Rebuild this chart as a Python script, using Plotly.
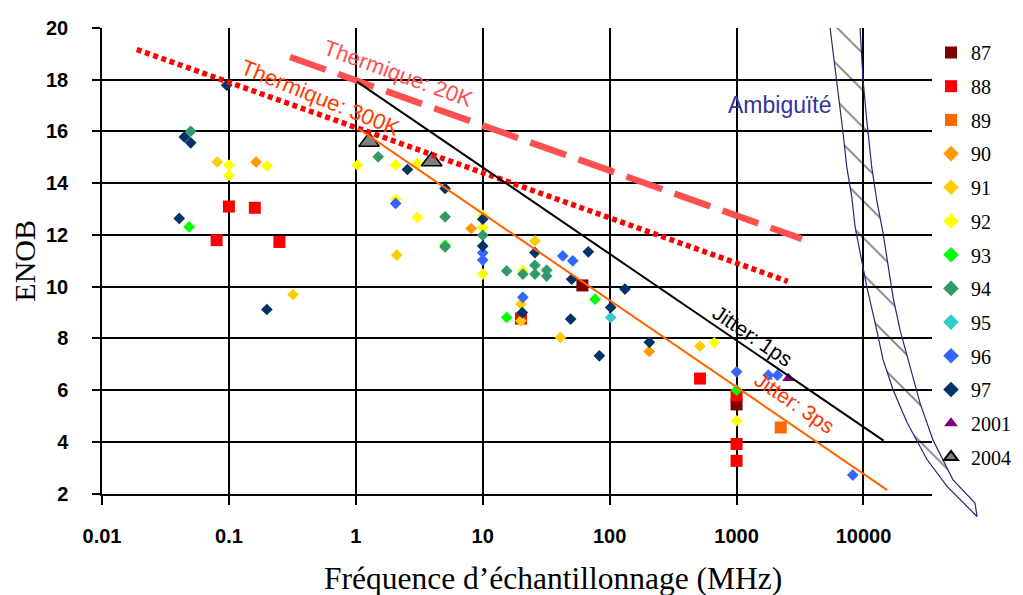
import plotly.graph_objects as go

# ---------------- data (frequency in MHz, ENOB) ----------------
series_names = ["87", "88", "89", "90", "91", "92", "93", "94", "95", "96", "97", "2001", "2004"]

f87 = [61, 1000]
e87 = [10.05, 5.45]
f88 = [0.1, 0.16, 0.08, 0.25, 20, 515, 1000, 1000, 1000]
e88 = [13.1, 13.05, 11.8, 11.73, 8.77, 6.45, 5.8, 3.92, 3.27]
f89 = [2230]
e89 = [4.56]
f90 = [0.164, 8.1, 205]
e90 = [14.82, 12.25, 7.5]
f91 = [0.081, 0.32, 2.1, 25.8, 20, 20, 41, 515]
e91 = [14.82, 9.7, 11.22, 11.77, 9.33, 8.68, 8.04, 7.7]
f92 = [0.1, 0.1, 0.2, 1.03, 2.06, 3.06, 2.06, 3.06, 10, 10, 10, 20.7, 668, 1000]
e92 = [14.7, 14.3, 14.67, 14.7, 14.7, 14.76, 13.38, 12.68, 12.76, 12.29, 10.49, 10.62, 7.83, 4.82]
f93 = [0.0486, 5.05, 15.45, 76.7, 1000]
e93 = [12.31, 11.6, 8.81, 9.52, 6.0]
f94 = [0.05, 1.5, 5.05, 5.05, 10, 15.45, 20.7, 25.8, 25.8, 31.9, 31.9]
e94 = [16.01, 15.02, 12.7, 11.54, 11.99, 10.61, 10.49, 10.83, 10.49, 10.64, 10.41]
f95 = [102]
e95 = [8.81]
f96 = [2.06, 10, 10, 20.7, 42.7, 51.2, 1000, 1780, 2100, 8240]
e96 = [13.22, 11.31, 11.03, 9.59, 11.19, 11.0, 6.71, 6.58, 6.58, 2.72]
f97 = [0.0406, 0.0446, 0.05, 0.096, 0.199, 2.55, 5.05, 10, 10, 25.8, 67.9, 50.2, 20.5, 49.3, 132, 102, 83, 205.6]
e97 = [12.64, 15.79, 15.56, 17.79, 9.12, 14.53, 13.8, 12.61, 11.57, 11.32, 11.35, 10.29, 9.0, 8.75, 9.91, 9.2, 7.33, 7.85]
f2001 = [2560]
e2001 = [6.46]
f2004 = [1.27, 3.96]
e2004 = [15.6, 14.85]

# limit lines
thermal300_f = [0.0188, 2530]
thermal300_e = [19.17, 10.21]
thermal20_f = [0.303, 3270]
thermal20_e = [18.88, 11.85]
jitter1_f = [1.02, 14400]
jitter1_e = [17.93, 4.05]
jitter3_f = [1.05, 15400]
jitter3_e = [16.11, 2.14]

# ambiguity band boundaries
amb_left_f = [5460, 6170, 6910, 7390, 8090, 8590, 9700, 10620, 12340, 14270, 17100, 22040, 31690, 45570, 78500]
amb_left_e = [20.0, 17.97, 15.93, 14.62, 13.47, 12.31, 11.04, 10.0, 8.61, 7.18, 6.02, 4.75, 3.32, 2.28, 1.12]
amb_right_f = [9400, 9930, 10620, 11620, 12730, 14270, 15620, 17100, 19420, 23280, 27920, 35340, 50820, 75680, 78500]
amb_right_e = [20.0, 17.97, 16.43, 14.62, 13.34, 12.07, 10.76, 9.6, 8.32, 6.89, 5.5, 4.07, 2.53, 1.64, 1.12]

x_tickvals = [0.01, 0.1, 1, 10, 100, 1000, 10000]
x_ticktext = ["0.01", "0.1", "1", "10", "100", "1000", "10000"]
y_tickvals = [2, 4, 6, 8, 10, 12, 14, 16, 18, 20]

# ---------------- styling ----------------
freqs = [f87, f88, f89, f90, f91, f92, f93, f94, f95, f96, f97, f2001, f2004]
enobs = [e87, e88, e89, e90, e91, e92, e93, e94, e95, e96, e97, e2001, e2004]
colors = ["#800000", "#FF0000", "#FF6600", "#FF9900", "#FFCC00", "#FFFF00", "#00FF00",
          "#339966", "#33CCCC", "#3366FF", "#003366", "#800080", "#808080"]
symbols = ["square"] * 3 + ["diamond"] * 8 + ["triangle-up"] * 2
sizes = [12] * 3 + [9] * 8 + [11, 18]

fig = go.Figure()

for name, fx, ey, c, s, sz in zip(series_names, freqs, enobs, colors, symbols, sizes):
    line = dict(width=1.5, color="black") if name == "2004" else dict(width=0)
    fig.add_trace(go.Scatter(
        x=fx, y=ey, mode="markers", name=name, legendgroup=name,
        marker=dict(symbol=s, size=sz, color=c, line=line),
        xaxis="x", yaxis="y", cliponaxis=False,
    ))

fig.add_trace(go.Scatter(x=thermal300_f, y=thermal300_e, mode="lines", showlegend=False,
                         line=dict(color="#FF0000", width=5.5, dash="5px,3.7px")))
fig.add_trace(go.Scatter(x=thermal20_f, y=thermal20_e, mode="lines", showlegend=False,
                         line=dict(color="#FF5050", width=6.5, dash="38px,13px")))
fig.add_trace(go.Scatter(x=jitter1_f, y=jitter1_e, mode="lines", showlegend=False,
                         line=dict(color="black", width=2)))
fig.add_trace(go.Scatter(x=jitter3_f, y=jitter3_e, mode="lines", showlegend=False,
                         line=dict(color="#FF6600", width=2)))

# ambiguity band on an overlay axis pair extending beyond the plot area
fig.add_trace(go.Scatter(
    x=amb_left_f + amb_right_f[::-1], y=amb_left_e + amb_right_e[::-1],
    mode="lines", fill="toself", showlegend=False,
    line=dict(color="#26267A", width=1.2),
    fillcolor="rgba(0,0,0,0)",
    fillpattern=dict(shape="\\", size=26, solidity=0.07, fgcolor="black",
                     bgcolor="rgba(0,0,0,0)", fillmode="overlay"),
    xaxis="x2", yaxis="y2",
))

# ---------------- layout ----------------
OFF = 8  # page body margin
W, H = 1023 - OFF, 595 - OFF
L, R, T, B = 102 - OFF, 30, 28 - OFF, 70
pw, ph = W - L - R, H - T - B
x_main_px = 830
xr = [-2, 4.54]
dec_px = x_main_px / (xr[1] - xr[0])
y_bottom_px = 493.7 - OFF
unit_px = (y_bottom_px - T) / 18.0

tick_font = dict(family="Arial, Liberation Sans, sans-serif", size=20, color="black", weight="bold")
serif = "Times New Roman, Liberation Serif, serif"

fig.update_layout(
    width=W, height=H,
    margin=dict(l=L, r=R, t=T, b=B, autoexpand=False),
    paper_bgcolor="white", plot_bgcolor="rgba(0,0,0,0)",
    xaxis=dict(
        type="log", range=xr, domain=[0, x_main_px / pw],
        tickvals=x_tickvals, ticktext=x_ticktext,
        showgrid=True, gridcolor="black", gridwidth=1.5,
        showline=True, linecolor="black", linewidth=1.5,
        ticks="outside", ticklen=10, tickcolor="black", tickwidth=1.5,
        tickfont=tick_font, ticklabelstandoff=14,
        zeroline=False, anchor="y",
    ),
    yaxis=dict(
        range=[2, 20], domain=[(H - B - y_bottom_px) / ph, 1],
        tickvals=y_tickvals,
        showgrid=True, gridcolor="black", gridwidth=1.5,
        showline=True, linecolor="black", linewidth=1.5,
        ticks="outside", ticklen=8, tickcolor="black", tickwidth=1.5,
        tickfont=tick_font, ticklabelstandoff=20,
        zeroline=False, anchor="x",
        title=dict(text="ENOB", font=dict(family=serif, size=30, color="black"), standoff=14),
    ),
    xaxis2=dict(type="log", range=[xr[0], xr[0] + pw / dec_px], domain=[0, 1],
                visible=False, showgrid=False, zeroline=False, anchor="y2"),
    yaxis2=dict(range=[20 - ph / unit_px, 20], domain=[0, 1],
                visible=False, showgrid=False, zeroline=False, anchor="x2"),
    legend=dict(
        x=(931 - 102) / pw, y=(H - B - 25) / ph, xanchor="left", yanchor="top",
        font=dict(family=serif, size=20, color="black"),
        bgcolor="rgba(0,0,0,0)", tracegroupgap=4.7, itemwidth=30,
        itemsizing="constant",
    ),
    showlegend=True,
)

# x-axis title (offset to the right of the axis centre as in the original)
fig.add_annotation(text="Fréquence d’échantillonnage (MHz)", xref="paper", yref="paper",
                   x=(553 - 102) / pw, y=-(578 - OFF - (H - B)) / ph,
                   xanchor="center", yanchor="middle", showarrow=False,
                   font=dict(family=serif, size=31.5, color="black"))

ann = [
    ("Thermique: 20K", 0.333, 18.26, 20, "#FF5050", 22),
    ("Thermique: 300K", -0.282, 17.33, 22, "#FF3C00", 22),
    ("Jitter: 1ps", 3.122, 8.10, 34, "black", 21),
    ("Jitter: 3ps", 3.453, 5.51, 34, "#FF3300", 21),
    ("Ambiguïté", 3.343, 17.02, 0, "#333399", 23),
]
for text, ax, ay, ang, col, fs in ann:
    fig.add_annotation(text=text, x=ax, y=ay, xref="x", yref="y", showarrow=False,
                       textangle=ang, xanchor="center", yanchor="middle",
                       font=dict(family="Arial, Liberation Sans, sans-serif", size=fs, color=col))

fig.write_html("out.html")
